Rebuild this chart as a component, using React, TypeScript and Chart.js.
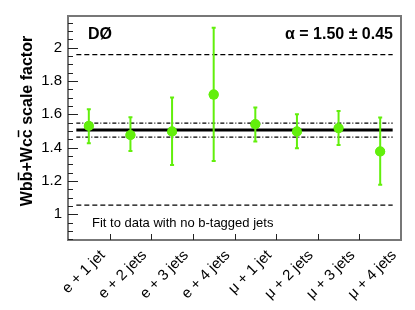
import React, { useEffect, useRef } from "react";
import { Chart, registerables } from "chart.js";

Chart.register(...registerables);

const categories = ["e + 1 jet", "e + 2 jets", "e + 3 jets", "e + 4 jets", "μ + 1 jet", "μ + 2 jets", "μ + 3 jets", "μ + 4 jets"];
const scaleFactors = [1.53, 1.476, 1.496, 1.718, 1.54, 1.496, 1.516, 1.376];
const errHigh = [1.63, 1.582, 1.70, 2.12, 1.64, 1.60, 1.62, 1.58];
const errLow = [1.426, 1.38, 1.296, 1.32, 1.436, 1.396, 1.416, 1.176];
const alphaFit = 1.505;
const alphaStatBand = [1.547, 1.463];
const alphaSystBand = [1.958, 1.055];
const yMajorTicks = [1, 1.2, 1.4, 1.6, 1.8, 2];
const lineSpan = [-0.3, 7.3];
const yTitleParts = ["Wb", "b", "+Wc", "c", " scale factor"];

const GREEN = "#62ef0c";
const FONT = "'Liberation Sans', Arial, sans-serif";

const decorPlugin = {
  id: "decor",
  afterDatasetsDraw(chart: any) {
    const ctx = chart.ctx;
    const { left, right, top, bottom } = chart.chartArea;
    const y = chart.scales.y;
    const xl = chart.scales.xl;
    const xc = chart.scales.x;
    ctx.save();
    // error bars
    ctx.strokeStyle = GREEN;
    ctx.lineWidth = 2;
    for (let i = 0; i < categories.length; i++) {
      const px = xc.getPixelForValue(i);
      const yh = y.getPixelForValue(errHigh[i]);
      const yl = y.getPixelForValue(errLow[i]);
      ctx.beginPath();
      ctx.moveTo(px, yh);
      ctx.lineTo(px, yl);
      ctx.moveTo(px - 2, yh);
      ctx.lineTo(px + 2, yh);
      ctx.moveTo(px - 2, yl);
      ctx.lineTo(px + 2, yl);
      ctx.stroke();
    }
    ctx.fillStyle = GREEN;
    for (let i = 0; i < categories.length; i++) {
      const px = xc.getPixelForValue(i);
      const py = y.getPixelForValue(scaleFactors[i]);
      ctx.beginPath();
      ctx.arc(px, py, 5, 0, Math.PI * 2);
      ctx.fill();
    }
    // frame
    ctx.strokeStyle = "#777";
    ctx.lineWidth = 2;
    ctx.strokeRect(left, top, right - left, bottom - top);
    // y ticks
    ctx.strokeStyle = "#222";
    ctx.lineWidth = 1;
    for (let v = 0.85; v <= 2.19; v += 0.05) {
      const vv = Math.round(v * 100) / 100;
      const major = yMajorTicks.some((m) => Math.abs(m - vv) < 1e-6);
      const py = Math.round(y.getPixelForValue(vv)) + 0.5;
      ctx.beginPath();
      ctx.moveTo(left, py);
      ctx.lineTo(left + (major ? 10 : 5), py);
      ctx.stroke();
    }
    // x ticks at category boundaries
    for (let i = 0; i < categories.length - 1; i++) {
      const px = Math.round(xl.getPixelForValue(i + 0.5)) + 0.5;
      ctx.beginPath();
      ctx.moveTo(px, bottom);
      ctx.lineTo(px, bottom - 6);
      ctx.stroke();
    }
    // x labels, rotated
    ctx.fillStyle = "#000";
    ctx.font = `15px ${FONT}`;
    ctx.textAlign = "right";
    ctx.textBaseline = "middle";
    for (let i = 0; i < categories.length; i++) {
      const px = xc.getPixelForValue(i);
      ctx.save();
      ctx.translate(px + 14, bottom + 13);
      ctx.rotate(-Math.PI / 4);
      ctx.fillText(categories[i], 0, 0);
      ctx.restore();
    }
    // y title with overlines
    ctx.save();
    ctx.font = `bold 16px ${FONT}`;
    ctx.textAlign = "left";
    ctx.textBaseline = "alphabetic";
    const full = yTitleParts.join("");
    const w = ctx.measureText(full).width;
    ctx.translate(32, 121);
    ctx.rotate(-Math.PI / 2);
    let cx = -w / 2;
    ctx.lineWidth = 1.5;
    ctx.strokeStyle = "#000";
    yTitleParts.forEach((part, idx) => {
      ctx.fillText(part, cx, 0);
      const pw = ctx.measureText(part).width;
      if (idx === 1 || idx === 3) {
        ctx.beginPath();
        ctx.moveTo(cx + 1, -13.5);
        ctx.lineTo(cx + pw - 1, -13.5);
        ctx.stroke();
      }
      cx += pw;
    });
    ctx.restore();
    // texts
    ctx.fillStyle = "#000";
    ctx.textBaseline = "alphabetic";
    ctx.font = `bold 16px ${FONT}`;
    ctx.textAlign = "left";
    ctx.fillText("DØ", 88, 39);
    ctx.textAlign = "right";
    ctx.fillText("α = 1.50 ± 0.45", 393, 39);
    ctx.font = `13px ${FONT}`;
    ctx.textAlign = "left";
    ctx.fillText("Fit to data with no b-tagged jets", 92, 227);
    ctx.restore();
  },
};

export default function App() {
  const ref = useRef<HTMLCanvasElement>(null);
  useEffect(() => {
    if (!ref.current) return;
    const lineDs = (val: number, dash: number[], width: number) => ({
      type: "line" as const,
      xAxisID: "xl",
      data: [
        { x: lineSpan[0], y: val },
        { x: lineSpan[1], y: val },
      ],
      borderColor: "#000",
      borderWidth: width,
      borderDash: dash,
      pointRadius: 0,
      fill: false,
    });
    const chart = new Chart(ref.current, {
      type: "line",
      data: {
        labels: categories,
        datasets: [
          lineDs(alphaSystBand[0], [5, 3], 1.3),
          lineDs(alphaSystBand[1], [5, 3], 1.3),
          lineDs(alphaStatBand[0], [4, 2, 1, 2], 1.3),
          lineDs(alphaStatBand[1], [4, 2, 1, 2], 1.3),
          lineDs(alphaFit, [], 3),
          {
            type: "line" as const,
            xAxisID: "x",
            data: scaleFactors,
            showLine: false,
            pointRadius: 5,
            pointBackgroundColor: GREEN,
            pointBorderWidth: 0,
            borderColor: GREEN,
          } as any,
        ],
      },
      options: {
        animation: false,
        responsive: false,
        maintainAspectRatio: false,
        layout: { padding: { left: 0, top: 16, right: 14, bottom: 0 } },
        plugins: { legend: { display: false }, tooltip: { enabled: false } },
        scales: {
          x: {
            type: "category",
            offset: true,
            grid: { display: false, drawTicks: false },
            border: { display: false },
            afterFit: (s: any) => {
              s.height = 70;
            },
            ticks: { display: false },
          },
          xl: {
            type: "linear",
            min: -0.5,
            max: 7.5,
            display: false,
          },
          y: {
            type: "linear",
            min: 0.845,
            max: 2.19,
            grid: { display: false, drawTicks: false },
            border: { display: false },
            afterFit: (s: any) => {
              s.width = 68;
            },
            afterBuildTicks: (s: any) => {
              s.ticks = yMajorTicks.map((v) => ({ value: v }));
            },
            ticks: {
              padding: 6,
              color: "#000",
              font: { family: FONT, size: 15 },
              callback: (v: any) => String(Number(v)),
            },
          },
        },
      },
      plugins: [decorPlugin],
    } as any);
    return () => chart.destroy();
  }, []);
  return (
    <div style={{ position: "fixed", left: 0, top: 0, width: 415, height: 310, background: "#fff" }}>
      <canvas ref={ref} width={415} height={310} style={{ width: 415, height: 310 }} />
    </div>
  );
}
